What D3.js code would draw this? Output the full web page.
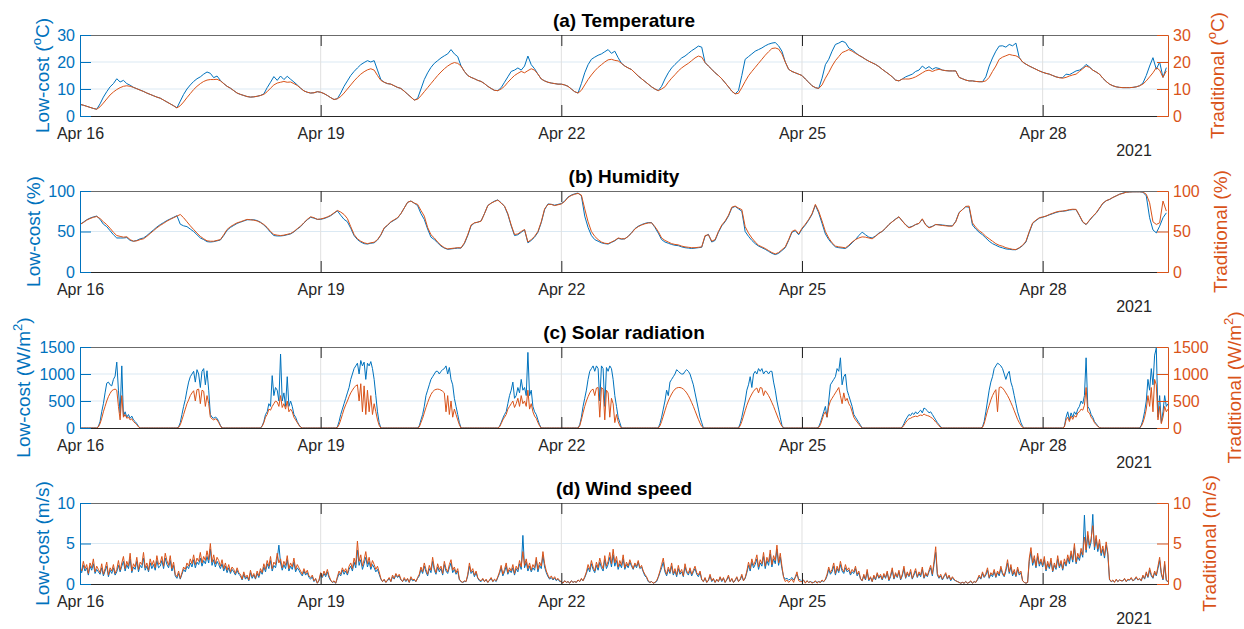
<!DOCTYPE html>
<html>
<head>
<meta charset="utf-8">
<script src="https://cdn.jsdelivr.net/npm/d3@7"></script>
<style>
  body { margin: 0; background: #fff; }
  svg { display: block; }
</style>
</head>
<body>
<div id="chart-wrapper"></div>
<script>

// ---- Data (one sub-array per day, Apr 16 .. Apr 29) ----
// hourly temperature (deg C)
const tempLowCost = [
  [4.3,4.0,3.6,3.2,2.8,2.5,4.5,7.0,9.0,10.8,12.0,13.8,12.6,13.2,12.0,11.4,10.6,10.1,9.6,9.1,8.5,8.0,7.5,7.0],
  [6.6,5.9,5.2,4.5,3.8,3.0,5.5,8.0,10.0,11.5,12.8,13.8,14.5,15.5,16.3,15.8,14.2,14.8,13.2,12.0,11.0,10.3,9.4,8.5],
  [8.0,7.6,7.2,7.0,7.1,7.3,7.6,8.2,10.5,12.5,14.6,13.2,14.8,13.5,14.7,13.6,12.6,11.5,10.3,9.3,8.8,8.5,8.6,9.0],
  [8.8,8.3,7.6,6.8,6.1,6.4,8.5,11.0,13.0,15.0,16.5,17.8,19.0,19.8,20.5,20.0,20.5,17.0,13.5,12.5,12.0,11.8,11.2,10.6],
  [10.2,9.2,8.1,7.0,5.9,6.5,10.0,13.5,16.0,18.0,19.5,20.5,21.5,22.3,23.0,24.6,23.0,22.0,18.5,16.5,15.0,14.3,13.8,13.2],
  [12.8,12.0,11.0,10.2,9.5,9.4,10.5,12.5,14.5,16.5,17.0,17.8,17.0,18.5,22.2,19.0,17.5,15.5,13.7,13.0,12.5,12.2,12.0,11.8],
  [11.8,11.5,11.0,10.0,9.0,8.5,12.0,16.0,19.0,21.0,21.8,22.5,23.0,23.8,24.6,23.2,24.0,21.6,19.5,18.5,17.8,17.2,16.0,14.8],
  [13.8,12.8,11.8,10.8,10.0,9.4,11.0,13.7,16.0,17.8,19.1,20.3,21.5,22.2,23.2,24.2,25.0,25.9,25.5,19.8,18.5,17.3,16.0,15.0],
  [13.8,12.3,10.8,9.2,8.2,9.4,15.0,21.0,22.0,23.0,24.0,24.6,25.2,26.0,26.6,27.0,27.2,26.0,24.0,20.0,17.3,16.5,16.0,15.5],
  [15.0,13.7,12.5,11.2,10.5,10.2,14.0,19.0,21.0,24.0,26.5,27.0,27.7,27.2,25.2,24.5,23.5,22.5,21.8,21.0,20.3,19.7,19.1,18.3],
  [17.3,16.4,15.5,14.5,13.3,13.0,13.7,14.5,15.0,15.5,16.5,17.0,18.5,17.5,18.3,17.3,17.9,17.6,17.0,16.8,16.7,16.7,16.7,14.3],
  [13.8,13.3,13.0,13.0,12.8,12.7,12.7,14.5,18.5,21.5,24.0,25.9,26.0,25.5,26.5,26.0,27.0,21.6,20.0,19.2,18.5,17.9,17.3,16.7],
  [16.2,15.8,15.5,15.0,14.5,14.2,14.2,15.5,15.3,16.0,16.7,17.0,17.8,19.1,18.2,17.0,16.3,15.5,14.0,12.8,11.8,11.2,10.8,10.6],
  [10.5,10.5,10.5,10.6,10.8,11.2,12.2,15.0,18.5,21.6,17.3,20.0,14.3,17.9]
]
const tempTraditional = [
  [4.3,4.0,3.6,3.2,2.8,2.5,3.4,4.8,6.3,7.8,8.9,9.8,10.5,11.0,11.2,11.0,10.6,10.1,9.6,9.1,8.5,8.0,7.5,7.0],
  [6.6,5.9,5.2,4.5,3.8,3.0,3.8,5.2,6.8,8.3,9.8,11.0,12.0,12.8,13.3,13.5,13.5,13.6,13.0,12.0,11.0,10.3,9.4,8.5],
  [8.0,7.6,7.2,7.0,7.1,7.3,7.6,8.0,9.0,10.3,11.5,12.2,12.5,12.8,12.5,12.6,12.0,11.3,10.3,9.3,8.8,8.5,8.6,9.0],
  [8.8,8.3,7.6,6.8,6.1,6.4,7.2,8.5,10.0,11.5,13.0,14.3,15.5,16.4,17.1,17.5,17.0,15.0,13.2,12.5,12.0,11.8,11.2,10.6],
  [10.2,9.2,8.1,7.0,5.9,6.2,7.5,9.0,10.5,12.0,13.5,15.0,16.3,17.5,18.5,19.3,19.8,19.5,18.5,16.5,15.0,14.3,13.8,13.2],
  [12.8,12.0,11.0,10.2,9.5,9.4,10.0,11.0,12.5,13.8,15.0,15.8,16.5,16.0,16.8,17.5,17.0,15.5,13.7,13.0,12.5,12.2,12.0,11.8],
  [11.8,11.5,11.0,10.0,9.0,8.5,9.5,11.5,13.5,15.2,16.7,18.0,19.0,20.0,20.8,21.0,20.6,20.4,19.5,18.5,17.8,17.2,16.0,14.8],
  [13.8,12.8,11.8,10.8,10.0,9.4,10.0,10.8,12.5,14.0,15.3,16.7,17.8,18.7,19.5,20.5,21.5,22.2,21.8,19.8,18.5,17.3,16.0,15.0],
  [13.8,12.3,10.8,9.2,8.2,8.4,10.5,12.8,14.9,16.5,18.0,19.5,21.0,22.5,23.8,25.0,25.2,24.8,23.0,20.0,17.3,16.5,16.0,15.5],
  [15.0,13.7,12.5,11.2,10.5,10.2,11.5,14.0,16.1,18.5,20.5,22.0,23.5,24.0,24.6,24.0,23.2,22.5,21.8,21.0,20.3,19.7,19.1,18.3],
  [17.3,16.4,15.5,14.5,13.3,13.0,13.7,13.7,13.7,14.0,14.5,15.2,16.0,16.7,17.0,16.5,17.0,17.3,17.0,16.8,16.7,16.7,16.7,14.3],
  [13.8,13.3,13.0,13.0,12.8,12.7,12.7,13.0,14.3,16.5,18.5,21.0,21.8,22.3,22.8,22.5,22.3,21.6,20.0,19.2,18.5,17.9,17.3,16.7],
  [16.2,15.8,15.5,15.0,14.5,14.2,14.0,14.3,14.8,15.2,15.5,16.5,17.5,18.5,18.0,17.0,16.3,15.5,14.0,12.8,11.8,11.2,10.8,10.6],
  [10.5,10.5,10.5,10.6,10.8,11.2,11.8,13.0,14.5,16.0,17.9,17.0,14.3,16.7]
]

// hourly relative humidity (%)
const humLowCost = [
  [58.7,61.5,64.5,66.5,68,69,65,59,56,51,46,42,42,42,42.5,39,38,39,41,42,45,48.5,52,55.5],
  [58.5,61,63.5,65.5,67.5,69.5,59,57,56,53,50,46,42,40,37.5,37,37.5,38.5,39.5,45,51.5,55,57.5,60],
  [61.5,63,64.5,64.5,64.5,63.5,61.5,58,54,49,45,44.5,44.5,45,46,47,49.5,53,56,60.5,64.5,67.5,66.5,65],
  [65,66,67.5,69.5,72.5,75.5,70,65,62,54,45,40,37,35,34.5,35.5,36,39.5,45.5,54,57.5,61.5,64,66.5],
  [72,79,86,87.6,85,82,72,64.9,53,43,40,36,32,29.5,28,28.5,29,29.5,29.5,35,45,57,60.5,61.5],
  [63,72,82,85,87.5,89,85.5,81,71,57,45,46,49,52,36,39,43,49,61,77,84,83.5,82.5,83.5],
  [84.5,87.5,92.5,95,96.5,97.5,94,69,55,45,40,38,36,35,34.5,36.5,38.5,41.5,40.5,41,44,48.5,53.5,56.5],
  [58.5,60,61,61,55,48,40,37,35.5,34,33,32.5,31,30,29.5,29,29.5,30,30.5,44,46.5,37,39,49],
  [57,62,69,79,81,78,75,50,44,39,35,32,30,28,25.5,23,21.5,23,26.5,30,39,49,51,46],
  [53,58,64,71,82.5,73,60,47,40,35,31,30,29.5,29,32,36,40,45,49.2,46,43,42,44.5,48],
  [50,54,58.5,62,65.5,68,63,58.5,55,56.5,58.5,60,65,58.5,55,56.5,58.5,58.5,58,57.5,57,57,62.5,73.5],
  [77,80.5,80,58,53,49,46,42,38,35,33,31,29.8,28.5,28,27.5,27.5,29.5,32.5,37,49,60,63.5,66.5],
  [67.5,69,70.5,72,73.5,74.5,75,75.5,76.5,77,77,69.5,61.5,58.5,63.5,68.5,72.5,78.5,84.5,88,89.5,92,94,96],
  [97.5,98.5,98.8,99,99,99,98.5,94,67,52,48.3,56.6,67,73]
]
const humTraditional = [
  [58.7,61,64,66,67.5,68.5,66,62,58.5,54,49,45,44,43,43.5,40,38,38.5,40,41,44,47.5,51,54.5],
  [57.5,60,62.8,65,67,69,71,67,62,57,52.5,48,44,41,38.5,38,38,39,40,46,52.5,56,58.5,60.7],
  [62,63.5,64.9,64.5,64,63,61,58.7,55,50,46.3,45.5,45,45.5,46.5,47.5,50,53.5,56.6,61,65,68.2,67,65],
  [65.5,66.5,68,70,73,76,74,71,66,56,46.3,41,38,36,35,36,36.8,40,46,54.5,58,62,64.5,67],
  [72,79,86,87.6,85,83.5,76,69,55,46,42,37,33,30,28.5,29,29.5,30,29.8,36,46,58,60.7,61.5],
  [62.8,72,82,85,87,88.8,85,81.4,72,58,46.3,47,50,52.5,37,40,44,50,62,78,83.5,83.5,82,83],
  [84,87,92,94.5,96,97,95,78,62,50,44,40,37,35.5,35,37,39,42,41,41,44,48,53,56],
  [58,59.5,60.5,60.7,56,50,42,39,37,35,34,33.5,32,31,30.5,30,30,30.5,31,45,46,38,40,50],
  [58,63,70,80,81.4,79,77,56,48,42,37,33,31,29,26.5,24,22.3,24,27.5,31,40,50,52,47],
  [54,59,64.9,72,83.5,75,63,50,42,36,32,31,30.5,29.8,33,37,40,42,43.4,43,42,41,44,47.5],
  [50.4,54,58.7,62,65,68.2,63,58,54.5,56,58.7,60,65.7,58,54.5,56,58.7,58,57.5,57,56.6,56.6,62,73],
  [77,81,81.4,60.7,55,51,48,44,41,38,35,33,31.8,30,29,28,27.7,30,33,38,50,60.7,64,67],
  [68,69,71,72.5,74,75,75.2,76,77,77.5,77.3,70,62,58.7,64,69,73,79,85,88,89.7,92,94,96],
  [97,98.5,98.8,99,99,99,98.8,96,85.5,62,58.7,60.7,87.6,75.2]
]

// half-hourly solar radiation (W/m2)
const solarLowCost = [
  [0,0,0,0,0,0,0,0,0,0,0,30,120,300,450,650,830,850,800,780,900,960,1220,700,280,1150,220,300,200,250,180,220,150,120,80,30,0,0,0,0,0,0,0,0,0,0,0,0],
  [0,0,0,0,0,0,0,0,0,0,0,20,100,250,400,527,700,850,950,1000,1050,850,1080,1000,750,1050,1100,800,1060,700,250,200,180,200,180,120,50,0,0,0,0,0,0,0,0,0,0,0],
  [0,0,0,0,0,0,0,0,0,0,0,0,0,40,120,250,300,450,400,970,600,750,700,500,1370,500,650,400,950,400,500,400,250,200,120,60,20,0,0,0,0,0,0,0,0,0,0,0],
  [0,0,0,0,0,0,0,0,0,0,20,120,250,350,450,550,650,750,900,1000,1100,1150,1200,1000,1250,1150,1220,900,1200,1150,1230,1100,900,600,300,100,0,0,0,0,0,0,0,0,0,0,0,0],
  [0,0,0,0,0,0,0,0,0,0,0,40,150,250,400,600,700,800,900,950,1000,1050,1050,1000,1050,1080,1100,1150,1000,1120,900,800,550,400,250,100,0,0,0,0,0,0,0,0,0,0,0,0],
  [0,0,0,0,0,0,0,0,0,0,0,30,100,180,250,300,450,600,700,850,550,600,750,650,900,700,750,600,1400,600,700,400,300,250,150,60,0,0,0,0,0,0,0,0,0,0,0,0],
  [0,0,0,0,0,0,0,0,0,0,0,60,200,400,550,700,900,1050,1100,1150,1050,1150,1100,500,1150,1100,400,1120,1050,1150,1100,900,600,400,200,100,0,0,0,0,0,0,0,0,0,0,0,0],
  [0,0,0,0,0,0,0,0,0,0,0,80,200,350,500,700,600,850,900,950,1000,1080,1050,1020,1000,1000,1050,1080,1050,1000,900,800,650,500,350,200,100,0,0,0,0,0,0,0,0,0,0,0],
  [0,0,0,0,0,0,0,0,0,0,0,80,200,350,500,700,800,950,750,1000,1050,1000,1100,1050,1100,1000,1050,1050,1000,1050,1050,850,700,500,350,200,50,0,0,0,0,0,0,0,0,0,0,0],
  [0,0,0,0,0,0,0,0,0,0,20,100,200,300,400,200,500,800,850,900,950,1100,1050,1300,800,950,1000,700,600,500,400,250,200,150,100,50,0,0,0,0,0,0,0,0,0,0,0,0],
  [0,0,0,0,0,0,0,0,0,0,0,0,20,80,150,200,250,230,280,250,300,260,300,330,280,370,350,320,280,300,250,200,150,100,60,20,0,0,0,0,0,0,0,0,0,0,0,0],
  [0,0,0,0,0,0,0,0,0,0,0,0,20,120,300,500,700,850,950,1100,1150,1200,1180,1150,1100,1000,900,1000,1050,850,750,600,450,300,200,100,30,0,0,0,0,0,0,0,0,0,0,0],
  [0,0,0,0,0,0,0,0,0,0,0,0,0,30,200,300,150,280,200,300,250,350,400,500,450,600,1300,400,350,250,200,120,80,40,10,0,0,0,0,0,0,0,0,0,0,0,0,0],
  [0,0,0,0,0,0,0,0,0,0,0,50,150,300,500,900,700,1100,800,1350,1480,200,600,100,300,600,400,450]
]
const solarTraditional = [
  [0,0,0,0,0,0,0,0,0,0,0,20,80,180,300,400,500,580,640,690,710,720,700,400,150,600,200,250,180,200,150,170,120,90,60,20,0,0,0,0,0,0,0,0,0,0,0,0],
  [0,0,0,0,0,0,0,0,0,0,0,10,60,150,250,350,450,520,600,650,690,500,710,720,450,700,680,400,600,450,200,170,150,170,150,100,40,0,0,0,0,0,0,0,0,0,0,0],
  [0,0,0,0,0,0,0,0,0,0,0,0,0,30,100,200,250,350,330,400,450,500,480,400,600,380,450,350,500,300,350,300,200,150,100,50,15,0,0,0,0,0,0,0,0,0,0,0],
  [0,0,0,0,0,0,0,0,0,0,10,60,150,250,350,430,500,580,650,700,750,780,800,500,820,300,780,250,700,300,600,250,450,300,150,50,0,0,0,0,0,0,0,0,0,0,0,0],
  [0,0,0,0,0,0,0,0,0,0,0,20,100,180,280,380,470,550,620,670,700,715,720,715,700,680,650,300,600,250,500,200,350,250,150,60,0,0,0,0,0,0,0,0,0,0,0,0],
  [0,0,0,0,0,0,0,0,0,0,0,20,80,150,200,250,350,400,450,500,380,450,550,400,600,450,500,400,700,350,450,300,220,180,100,40,0,0,0,0,0,0,0,0,0,0,0,0],
  [0,0,0,0,0,0,0,0,0,0,0,40,150,280,400,500,580,650,700,720,600,740,750,200,750,720,150,700,650,200,550,450,100,250,120,40,0,0,0,0,0,0,0,0,0,0,0,0],
  [0,0,0,0,0,0,0,0,0,0,0,40,120,220,320,420,500,570,630,680,720,740,750,750,740,720,690,650,600,540,470,400,320,240,160,90,30,0,0,0,0,0,0,0,0,0,0,0],
  [0,0,0,0,0,0,0,0,0,0,0,40,120,220,320,420,500,570,630,680,720,740,650,750,740,600,690,650,600,540,470,400,320,240,160,90,30,0,0,0,0,0,0,0,0,0,0,0],
  [0,0,0,0,0,0,0,0,0,0,10,60,150,250,300,200,400,500,550,600,650,700,750,600,450,650,500,550,450,400,300,200,150,110,70,30,0,0,0,0,0,0,0,0,0,0,0,0],
  [0,0,0,0,0,0,0,0,0,0,0,0,10,50,100,140,170,180,200,210,220,210,230,240,230,260,240,230,220,200,180,150,110,80,40,10,0,0,0,0,0,0,0,0,0,0,0,0],
  [0,0,0,0,0,0,0,0,0,0,0,0,10,80,200,320,420,520,600,660,710,300,750,760,740,700,650,600,540,470,400,320,240,160,100,50,10,0,0,0,0,0,0,0,0,0,0,0],
  [0,0,0,0,0,0,0,0,0,0,0,0,0,20,150,200,120,220,160,230,200,280,300,350,330,420,750,300,280,200,160,100,60,30,5,0,0,0,0,0,0,0,0,0,0,0,0,0],
  [0,0,0,0,0,0,0,0,0,0,0,30,100,200,350,600,400,750,300,900,800,150,400,80,200,400,300,350]
]

// half-hourly wind speed (m/s)
const windLowCost = [
  [1.8,1.4,2.3,1.6,2.0,1.1,2.2,1.7,2.5,1.3,1.8,1.5,1.2,2.0,1.0,1.6,2.2,0.9,1.7,1.3,2.0,1.1,1.5,2.3,1.5,2.2,2.8,1.6,2.4,1.9,3.1,1.4,2.1,1.8,2.8,1.5,2.3,2.0,3.2,1.7,2.2,1.5,2.6,1.9,2.4,1.7,2.9,2.0],
  [2.2,2.9,1.9,3.2,2.4,2.0,2.9,1.6,2.3,1.0,0.7,1.3,0.6,1.2,1.8,1.5,2.2,1.9,2.6,2.1,3.0,2.0,2.7,2.4,3.2,2.2,2.9,2.5,3.4,2.6,4.3,2.3,3.0,2.1,2.8,2.4,1.9,2.5,1.6,2.2,1.4,2.0,1.3,1.8,1.5,1.1,1.7,1.2],
  [1.0,0.5,1.2,0.6,0.9,0.4,1.4,0.7,1.1,0.6,1.3,0.8,1.6,1.2,2.1,1.5,2.5,1.9,2.9,1.6,2.3,2.0,3.1,4.8,2.6,1.7,2.4,1.9,3.0,1.6,2.2,1.8,2.7,1.5,2.0,1.7,1.3,1.0,1.6,1.1,1.4,0.8,0.6,0.9,0.3,0.6,0.1,0.4],
  [1.2,0.8,1.3,0.9,1.5,0.8,0.4,0.2,0.3,0.1,0.7,1.3,1.0,1.7,1.2,1.6,1.1,1.8,2.2,1.6,2.7,2.0,4.2,2.3,3.0,1.8,2.5,3.3,2.1,2.8,1.8,2.4,2.0,1.5,1.8,1.2,0.6,0.3,0.5,0.2,0.4,0.7,0.3,0.9,0.6,1.1,0.8,1.0],
  [0.5,0.3,0.6,0.3,0.6,0.2,0.7,0.4,0.5,0.3,0.7,1.0,1.8,1.3,2.2,1.5,1.0,1.9,1.4,2.8,1.7,1.2,2.1,1.5,1.9,1.1,2.4,1.6,1.3,2.0,2.6,1.4,1.8,1.2,1.6,0.5,0.3,0.2,0.3,0.3,1.0,2.2,1.3,1.6,0.9,1.4,0.7,0.4],
  [0.3,0.6,0.3,0.5,0.2,0.4,0.7,0.3,0.5,0.3,0.8,1.3,2.0,1.0,1.5,2.2,1.2,1.7,1.4,2.0,1.1,1.9,1.5,2.5,1.8,6.0,2.0,2.7,1.6,2.2,1.5,2.0,1.7,2.9,1.5,2.3,1.9,3.5,2.1,1.4,0.9,0.6,0.8,0.5,0.7,0.4,0.6,0.3],
  [0.3,0.1,0.4,0.2,0.3,0.1,0.4,0.2,0.3,0.2,0.5,0.3,0.6,0.4,0.8,1.3,2.0,1.5,2.5,1.8,1.4,2.3,1.7,2.7,2.0,1.6,3.0,1.9,2.4,3.3,2.1,3.6,2.2,2.9,1.8,2.5,2.0,3.1,1.8,2.4,2.0,2.7,2.2,1.8,2.4,2.0,2.7,1.9],
  [2.1,1.5,1.0,0.8,0.3,0.2,0.3,0.1,0.2,0.3,0.8,1.4,2.0,2.7,1.5,1.0,1.8,1.3,2.2,1.1,1.6,0.9,1.9,1.2,1.5,0.9,2.1,1.4,1.1,1.7,1.0,1.5,1.9,1.2,0.9,1.4,0.5,0.3,0.7,0.2,0.4,1.0,0.3,0.6,0.2,0.5,0.3,0.8],
  [0.3,0.7,0.2,0.5,0.9,0.3,0.6,0.2,0.4,0.8,0.3,0.5,1.0,0.4,0.7,1.4,2.3,1.6,2.7,2.0,2.4,3.1,1.8,2.6,2.2,3.4,1.9,2.9,2.3,3.7,2.1,3.1,2.5,4.3,2.3,3.3,1.9,0.9,0.6,0.7,0.5,0.6,0.8,0.5,0.8,1.2,0.6,0.5],
  [0.3,0.4,0.2,0.4,0.2,0.3,0.2,0.2,0.3,0.2,0.3,0.2,0.4,0.3,0.5,1.0,1.8,1.2,1.5,2.2,1.1,1.9,1.4,2.4,1.6,1.3,2.0,1.5,1.7,1.1,1.5,1.3,1.9,1.0,1.4,0.6,0.4,1.0,0.5,1.5,0.4,0.8,0.3,0.9,0.5,1.2,0.7,1.0],
  [0.5,1.1,0.7,1.4,0.4,0.9,1.7,0.6,1.2,0.8,1.5,0.5,1.0,1.9,0.7,1.3,0.9,1.5,0.6,1.1,1.6,0.8,1.3,0.9,1.8,0.7,1.2,0.9,1.5,2.0,1.0,2.4,3.9,1.1,0.7,1.0,0.5,0.9,1.2,0.6,1.0,0.4,0.8,0.5,0.4,0.3,0.2,0.1],
  [0.2,0.1,0.3,0.1,0.2,0.3,0.1,0.3,0.2,0.5,0.9,0.6,1.3,0.8,1.1,1.7,0.7,1.2,0.9,1.5,0.8,1.4,1.0,1.9,1.2,0.9,1.6,2.6,1.3,2.1,1.0,1.5,0.9,1.8,1.1,1.4,0.4,0.2,0.1,0.2,2.8,4.0,2.3,3.1,2.0,3.4,2.2,2.8],
  [2.1,3.0,1.6,2.5,1.9,2.8,1.5,2.3,1.8,3.1,2.0,2.6,1.7,2.7,2.2,3.2,2.5,3.7,2.7,4.5,2.5,3.4,2.9,4.0,3.3,8.5,3.9,6.0,4.4,5.2,8.6,4.2,5.5,4.0,5.0,3.5,4.3,3.2,4.8,3.6,0.5,0.3,0.4,0.3,0.5,0.3,0.5,0.4],
  [0.4,0.6,0.3,0.5,0.5,0.7,0.4,0.5,0.8,0.5,0.6,0.4,1.0,0.6,1.3,0.8,1.7,1.0,0.7,1.4,1.0,1.9,2.9,1.2,0.5,2.4,0.4,0.3]
]
const windTraditional = [
  [2.1,1.6,2.8,1.9,2.4,1.3,2.6,2.0,3.1,1.5,2.2,1.8,1.4,2.5,1.2,1.9,2.7,1.1,2.0,1.6,2.4,1.3,1.8,2.9,1.7,2.6,3.4,1.9,2.8,2.2,3.8,1.6,2.5,2.1,3.3,1.8,2.7,2.4,3.9,2.0,2.6,1.7,3.1,2.3,2.9,2.0,3.5,2.4],
  [2.6,3.4,2.2,3.8,2.9,2.3,3.5,1.9,2.7,1.2,0.9,1.6,0.7,1.4,2.1,1.8,2.6,2.2,3.1,2.5,3.6,2.4,3.2,2.8,3.9,2.6,3.4,2.9,4.1,3.0,5.0,2.7,3.6,2.5,3.3,2.9,2.2,3.0,1.9,2.6,1.7,2.4,1.5,2.1,1.8,1.3,2.0,1.4],
  [1.2,0.6,1.5,0.8,1.1,0.5,1.7,0.9,1.3,0.7,1.6,1.0,1.9,1.4,2.5,1.8,2.9,2.2,3.4,1.9,2.7,2.4,3.8,2.6,3.1,2.0,2.8,2.3,3.5,1.9,2.6,2.1,3.2,1.8,2.4,2.0,1.6,1.2,1.9,1.3,1.7,1.0,0.8,1.1,0.4,0.7,0.1,0.5],
  [1.4,0.9,1.6,1.1,1.8,1.0,0.5,0.2,0.4,0.1,0.9,1.6,1.2,2.0,1.5,1.9,1.3,2.2,2.6,1.9,3.2,2.4,5.3,2.8,3.6,2.2,3.0,4.0,2.5,3.3,2.1,2.9,2.4,1.8,2.2,1.5,0.7,0.3,0.6,0.2,0.5,0.8,0.3,1.1,0.7,1.3,0.9,1.2],
  [0.6,0.3,0.8,0.4,0.7,0.2,0.9,0.5,0.6,0.3,0.8,1.2,2.1,1.5,2.6,1.8,1.2,2.3,1.7,3.3,2.0,1.4,2.5,1.8,2.2,1.3,2.8,1.9,1.5,2.4,3.0,1.7,2.1,1.4,1.9,0.6,0.3,0.2,0.4,0.3,1.2,2.6,1.5,1.9,1.1,1.6,0.8,0.5],
  [0.4,0.7,0.3,0.6,0.2,0.5,0.8,0.3,0.6,0.4,0.9,1.5,2.3,1.2,1.8,2.6,1.4,2.0,1.6,2.4,1.3,2.2,1.8,2.9,2.1,4.0,2.3,3.1,1.9,2.6,1.7,2.4,2.0,3.3,1.8,2.7,2.2,4.0,2.5,1.6,1.1,0.7,1.0,0.6,0.9,0.5,0.7,0.4],
  [0.3,0.1,0.4,0.2,0.3,0.1,0.4,0.2,0.3,0.2,0.5,0.3,0.7,0.4,0.9,1.5,2.4,1.8,2.9,2.1,1.6,2.7,2.0,3.2,2.4,1.9,3.5,2.2,2.8,3.9,2.5,4.3,2.6,3.4,2.1,2.9,2.3,3.6,2.0,2.7,2.2,3.0,2.4,1.9,2.6,2.2,2.9,2.0],
  [2.3,1.6,1.2,0.9,0.4,0.2,0.3,0.1,0.2,0.4,0.9,1.6,2.4,3.2,1.8,1.2,2.1,1.5,2.6,1.3,1.9,1.1,2.3,1.4,1.8,1.0,2.5,1.6,1.3,2.0,1.2,1.7,2.2,1.4,1.1,1.6,0.6,0.3,0.8,0.2,0.5,1.2,0.4,0.7,0.2,0.6,0.3,0.9],
  [0.4,0.8,0.2,0.6,1.1,0.3,0.7,0.2,0.5,0.9,0.3,0.6,1.2,0.4,0.8,1.6,2.7,1.9,3.1,2.3,2.8,3.6,2.1,3.0,2.5,3.9,2.2,3.3,2.7,4.2,2.4,3.5,2.9,4.8,2.6,3.8,2.2,0.8,0.3,0.5,0.2,0.4,0.6,0.2,0.9,1.5,0.4,0.3],
  [0.3,0.5,0.1,0.4,0.2,0.3,0.1,0.2,0.4,0.1,0.3,0.2,0.5,0.3,0.6,1.2,2.1,1.4,1.8,2.6,1.3,2.2,1.6,2.8,1.9,1.5,2.4,1.7,2.0,1.3,1.8,1.5,2.2,1.2,1.6,0.7,0.4,1.2,0.6,1.8,0.5,0.9,0.3,1.1,0.6,1.4,0.8,1.2],
  [0.6,1.3,0.8,1.6,0.5,1.1,2.0,0.7,1.4,0.9,1.7,0.6,1.2,2.2,0.8,1.5,1.0,1.8,0.7,1.3,1.9,0.9,1.5,1.1,2.1,0.8,1.4,1.0,1.7,2.3,1.2,2.8,4.6,1.3,0.8,1.2,0.6,1.0,1.4,0.7,1.1,0.5,0.9,0.6,0.4,0.3,0.2,0.1],
  [0.2,0.1,0.3,0.1,0.2,0.4,0.1,0.3,0.2,0.6,1.1,0.7,1.5,0.9,1.3,2.0,0.8,1.4,1.1,1.8,0.9,1.6,1.2,2.2,1.4,1.0,1.9,3.0,1.5,2.4,1.2,1.8,1.0,2.1,1.3,1.6,0.4,0.2,0.1,0.2,3.2,4.5,2.6,3.5,2.2,3.8,2.5,3.1],
  [2.3,3.4,1.8,2.8,2.1,3.2,1.6,2.6,2.0,3.5,2.2,2.9,1.9,3.1,2.4,3.6,2.8,4.1,3.0,5.0,2.7,3.8,3.2,4.4,3.6,5.8,4.2,6.5,4.8,5.6,7.2,4.6,6.0,4.3,5.5,3.8,4.7,3.5,5.2,3.9,0.6,0.3,0.5,0.2,0.6,0.3,0.5,0.4],
  [0.4,0.7,0.3,0.6,0.5,0.8,0.4,0.6,0.9,0.5,0.7,0.4,1.1,0.7,1.5,0.9,2.0,1.2,0.8,1.6,1.1,2.2,3.3,1.4,0.6,2.8,0.5,0.3]
]

// axis ticks and labels
const xTickDays = [16, 19, 22, 25, 28]
const panelTitles = ["(a) Temperature", "(b) Humidity", "(c) Solar radiation", "(d) Wind speed"]
const yDomains = [[0, 30], [0, 100], [0, 1500], [0, 10]]
const yTicks = [[0, 10, 20, 30], [0, 50, 100], [0, 500, 1000, 1500], [0, 5, 10]]
const leftLabels = [["Low-cost (", "o", "C)"], ["Low-cost (%)"], ["Low-cost (W/m", "2", ")"], ["Low-cost (m/s)"]]
const rightLabels = [["Traditional (", "o", "C)"], ["Traditional (%)"], ["Traditional (W/m", "2", ")"], ["Traditional (m/s)"]]


function drawChart() {

  const dimensions = {
    width: 1244,
    height: 629,
    left: 80,
    right: 1168,
    firstTop: 35,
    panelHeight: 81,
    panelStep: 156,
  }
  // per-panel y label baselines (MATLAB pushes them out past the tick labels)
  const leftLabelX = [49, 40, 30, 49]
  const rightLabelX = [1224, 1227, 1241, 1216]

  const blue = "#0072BD"
  const orange = "#D95319"
  const axisGray = "#262626"
  const fontFamily = "'Liberation Sans', Arial, Helvetica, sans-serif"
  const tickFont = 16

  const startDate = new Date(2021, 3, 16)
  const endDate = new Date(2021, 3, 29, 13, 30)

  // turn per-day value lists into {date, value} rows
  function toRows(days, stepMinutes) {
    const rows = []
    days.forEach((vals, d) => {
      const dayStart = d3.timeDay.offset(startDate, d)
      vals.forEach((v, i) => rows.push({ date: d3.timeMinute.offset(dayStart, i * stepMinutes), value: v }))
    })
    return rows
  }

  const series = [
    [toRows(tempLowCost, 60), toRows(tempTraditional, 60)],
    [toRows(humLowCost, 60), toRows(humTraditional, 60)],
    [toRows(solarLowCost, 30), toRows(solarTraditional, 30)],
    [toRows(windLowCost, 30), toRows(windTraditional, 30)],
  ]

  const svg = d3.select("#chart-wrapper")
    .append("svg")
      .attr("width", dimensions.width)
      .attr("height", dimensions.height)
      .style("font-family", fontFamily)

  const xScale = d3.scaleTime()
    .domain([startDate, endDate])
    .range([dimensions.left, dimensions.right])

  const xTickDates = xTickDays.map(d => new Date(2021, 3, d))

  function addLabel(g, parts, xPos, yPos, color) {
    const t = g.append("text")
      .attr("transform", `translate(${xPos},${yPos}) rotate(-90)`)
      .attr("text-anchor", "middle")
      .attr("font-size", 19)
      .attr("fill", color)
    t.append("tspan").text(parts[0])
    if (parts.length > 1) {
      t.append("tspan").attr("font-size", 13).attr("dy", -8).text(parts[1])
      t.append("tspan").attr("dy", 8).text(parts[2])
    }
  }

  panelTitles.forEach((title, i) => {
    const top = dimensions.firstTop + i * dimensions.panelStep
    const bottom = top + dimensions.panelHeight
    const midY = (top + bottom) / 2

    const yScale = d3.scaleLinear()
      .domain(yDomains[i])
      .range([bottom, top])

    const panel = svg.append("g")

    // grid
    panel.selectAll(".hgrid")
      .data(yTicks[i].slice(1, -1))
      .join("line")
        .attr("x1", dimensions.left).attr("x2", dimensions.right)
        .attr("y1", d => yScale(d)).attr("y2", d => yScale(d))
        .attr("stroke", "#dbe9f3")
        .attr("stroke-width", 1)
    panel.selectAll(".vgrid")
      .data(xTickDates.slice(1))
      .join("line")
        .attr("x1", d => xScale(d)).attr("x2", d => xScale(d))
        .attr("y1", top).attr("y2", bottom)
        .attr("stroke", "#e0e0e0")
        .attr("stroke-width", 1)

    // clip for the traces
    const clipId = "clip" + i
    panel.append("clipPath").attr("id", clipId)
      .append("rect")
        .attr("x", dimensions.left).attr("y", top)
        .attr("width", dimensions.right - dimensions.left)
        .attr("height", bottom - top)

    const lineGenerator = d3.line()
      .x(d => xScale(d.date))
      .y(d => yScale(d.value))

    const traces = panel.append("g").attr("clip-path", `url(#${clipId})`)
    traces.append("path")
      .datum(series[i][0])
      .attr("d", lineGenerator)
      .attr("fill", "none")
      .attr("stroke", blue)
      .attr("stroke-width", 1)
      .attr("stroke-linejoin", "round")
    traces.append("path")
      .datum(series[i][1])
      .attr("d", lineGenerator)
      .attr("fill", "none")
      .attr("stroke", orange)
      .attr("stroke-width", 1)
      .attr("stroke-linejoin", "round")

    // axes (ticks point inwards, like MATLAB)
    const bottomAxis = panel.append("g")
      .attr("transform", `translate(0,${bottom})`)
      .attr("color", axisGray)
      .call(d3.axisBottom(xScale)
        .tickValues(xTickDates)
        .tickFormat(d3.timeFormat("%b %-d"))
        .tickSizeInner(-11)
        .tickSizeOuter(0)
        .tickPadding(12))
    bottomAxis.attr("font-size", tickFont).attr("font-family", fontFamily)

    panel.append("g")
      .attr("transform", `translate(0,${top})`)
      .attr("color", axisGray)
      .call(d3.axisTop(xScale)
        .tickValues(xTickDates)
        .tickFormat("")
        .tickSizeInner(-11)
        .tickSizeOuter(0))
      .select(".domain").attr("stroke", "#6b6b6b")

    const leftAxis = panel.append("g")
      .attr("transform", `translate(${dimensions.left},0)`)
      .attr("color", blue)
      .call(d3.axisLeft(yScale)
        .tickValues(yTicks[i])
        .tickFormat(d3.format("d"))
        .tickSizeInner(-11)
        .tickSizeOuter(0)
        .tickPadding(5))
    leftAxis.attr("font-size", tickFont).attr("font-family", fontFamily)

    const rightAxis = panel.append("g")
      .attr("transform", `translate(${dimensions.right},0)`)
      .attr("color", orange)
      .call(d3.axisRight(yScale)
        .tickValues(yTicks[i])
        .tickFormat(d3.format("d"))
        .tickSizeInner(-11)
        .tickSizeOuter(0)
        .tickPadding(5))
    rightAxis.attr("font-size", tickFont).attr("font-family", fontFamily)

    // title, labels, year
    panel.append("text")
      .attr("x", (dimensions.left + dimensions.right) / 2)
      .attr("y", top - 8)
      .attr("text-anchor", "middle")
      .attr("font-size", 19)
      .attr("font-weight", "bold")
      .attr("fill", "#000")
      .text(title)

    addLabel(panel, leftLabels[i], leftLabelX[i], midY, blue)
    addLabel(panel, rightLabels[i], rightLabelX[i], midY, orange)

    panel.append("text")
      .attr("x", 1134)
      .attr("y", bottom + 40)
      .attr("text-anchor", "middle")
      .attr("font-size", tickFont)
      .attr("fill", axisGray)
      .text("2021")
  })
}

drawChart()
</script>
</body>
</html>
